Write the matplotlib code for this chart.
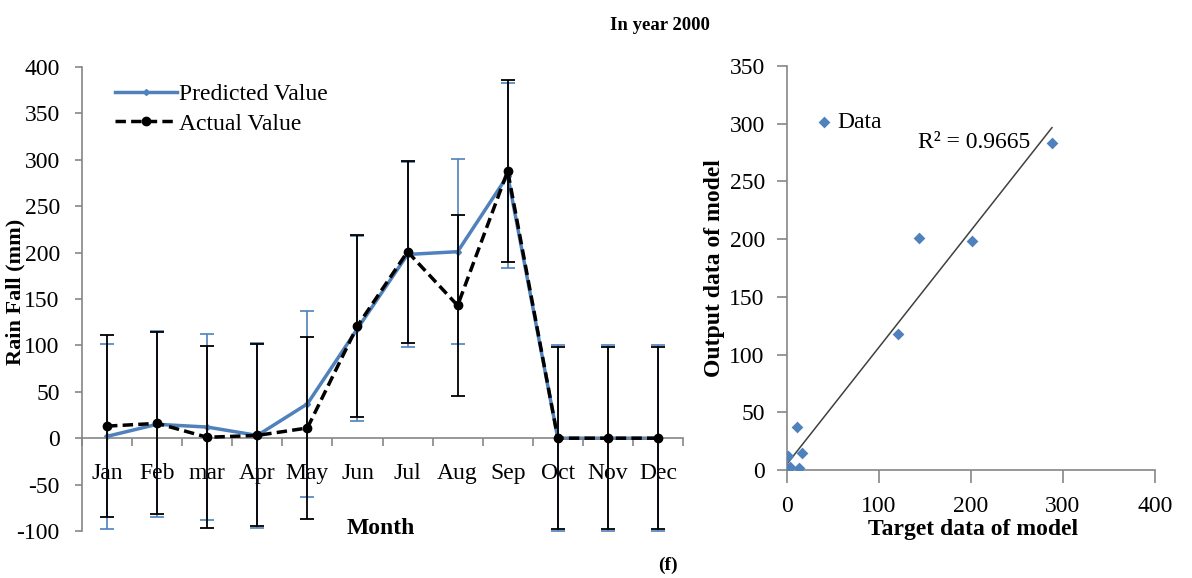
import numpy as np
import matplotlib
matplotlib.use("Agg")
import matplotlib.pyplot as plt
from matplotlib.lines import Line2D

plt.rcParams['font.family'] = ['Liberation Serif', 'DejaVu Serif']
plt.rcParams['axes.unicode_minus'] = False

months = ["Jan", "Feb", "mar", "Apr", "May", "Jun", "Jul", "Aug", "Sep", "Oct", "Nov", "Dec"]
predicted = [2, 15, 12, 3, 37, 118, 198, 201, 283, 0, 0, 0]
actual = [13, 16, 1, 3, 11, 121, 201, 143, 288, 0, 0, 0]
predicted_err = [100] * 12
actual_err = [98] * 12

target = actual
output = predicted
r2_label = "R\u00b2 = 0.9665"

BLUE = "#4F81BD"
GRAY = "#868686"
FS = 17

fig = plt.figure(figsize=(11.92, 5.78), dpi=100)

# ---------------- left chart ----------------
ax = fig.add_axes([82 / 1192, 1 - 531 / 578, 601 / 1192, 464 / 578])
x = np.arange(len(months))
pred_style = dict(color=BLUE, lw=2.5, marker='D', ms=3)
act_style = dict(color='black', lw=2.5, ls=(0, (3, 1.5)), marker='o', ms=6)
ax.errorbar(x, predicted, yerr=predicted_err, ecolor=BLUE, elinewidth=1.2, capsize=5,
            capthick=1.2, zorder=2, **pred_style)
ax.errorbar(x, actual, yerr=actual_err, ecolor='black', elinewidth=1.3, capsize=5,
            capthick=1.3, zorder=3, **act_style)
ax.set_xlim(-0.5, len(months) - 0.5)
ax.set_ylim(-100, 400)
ax.set_yticks(np.arange(-100, 401, 50))
ax.set_xticks(x)
ax.set_xticklabels(months)
ax.set_xticks(np.arange(-0.5, len(months), 1.0), minor=True)
ax.tick_params(axis='x', which='major', length=0, pad=18, labelsize=FS)
ax.tick_params(axis='x', which='minor', length=6, width=1.2, color=GRAY, direction='out')
ax.tick_params(axis='y', length=5, width=1.2, color=GRAY, pad=11, labelsize=FS)
for s in ['top', 'right']:
    ax.spines[s].set_visible(False)
ax.spines['bottom'].set_position(('data', 0))
for s in ['left', 'bottom']:
    ax.spines[s].set_color(GRAY)
    ax.spines[s].set_linewidth(1.2)
fig.text(381 / 1192, 1 - 528 / 578, "Month", ha='center', va='center', fontsize=FS,
         fontweight='bold')
fig.text(15 / 1192, 1 - 292 / 578, "Rain Fall (mm)", rotation=90, ha='center', va='center',
         fontsize=16, fontweight='bold')
handles = [Line2D([], [], **pred_style), Line2D([], [], **act_style)]
ax.legend(handles, ["Predicted Value", "Actual Value"], loc='upper left',
          bbox_to_anchor=(0.04, 0.985), frameon=False, fontsize=FS,
          handlelength=2.6, handletextpad=0.1, labelspacing=0.35, borderaxespad=0)

# ---------------- right chart ----------------
ax2 = fig.add_axes([787 / 1192, 1 - 470 / 578, 368 / 1192, 404 / 578])
ax2.scatter(target, output, marker='D', s=36, color=BLUE, label="Data", zorder=3, linewidths=0)
coef = np.polyfit(target, output, 1)
xl = np.array([0, max(target)])
ax2.plot(xl, np.polyval(coef, xl), color='#404040', lw=1.1, zorder=2)
ax2.set_xlim(0, 400)
ax2.set_ylim(0, 350)
ax2.set_xticks(np.arange(0, 401, 100))
ax2.set_yticks(np.arange(0, 351, 50))
ax2.tick_params(axis='x', length=9, width=1.2, color=GRAY, pad=10, labelsize=FS)
ax2.tick_params(axis='y', length=7, width=1.2, color=GRAY, pad=9, labelsize=FS)
for s in ['top', 'right']:
    ax2.spines[s].set_visible(False)
for s in ['left', 'bottom']:
    ax2.spines[s].set_color(GRAY)
    ax2.spines[s].set_linewidth(1.2)
ax2.text(142, 284, r2_label, ha='left', va='center', fontsize=FS)
ax2.legend(loc='center left', bbox_to_anchor=(0.06, 0.86), frameon=False, fontsize=FS,
           handlelength=0.5, handletextpad=0.3, borderaxespad=0, scatterpoints=1)
fig.text(973 / 1192, 1 - 530 / 578, "Target data of model", ha='center', va='center',
         fontsize=FS, fontweight='bold')
fig.text(714 / 1192, 1 - 268 / 578, "Output data of model", rotation=90, ha='center', va='center',
         fontsize=FS, fontweight='bold')

fig.text(660 / 1192, 1 - 25 / 578, "In year 2000", ha='center', va='center', fontsize=13.5,
         fontweight='bold')
fig.text(668 / 1192, 1 - 565 / 578, "(f)", ha='center', va='center', fontsize=14, fontweight='bold')

fig.savefig("out.png", dpi=100)
